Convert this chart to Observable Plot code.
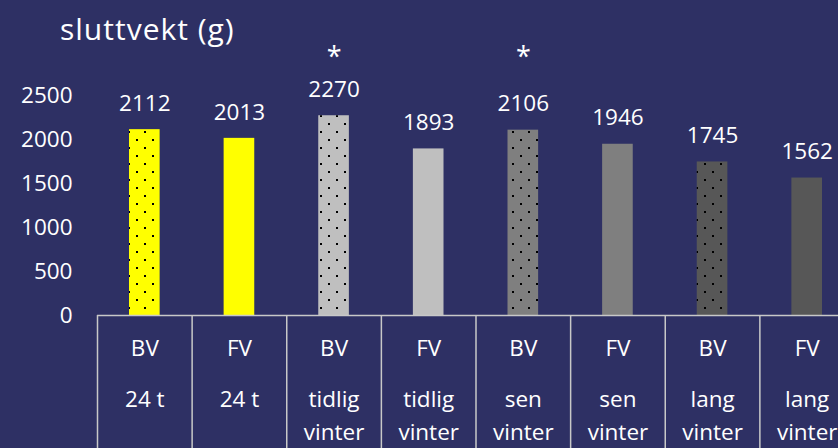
<!DOCTYPE html>
<html><head><meta charset="utf-8">
<script src="https://cdn.jsdelivr.net/npm/d3@7"></script>
<script src="https://cdn.jsdelivr.net/npm/@observablehq/plot@0.6"></script>
<style>
html,body{margin:0;padding:0;background:#2E3064;overflow:hidden;}
#wrap{position:relative;width:838px;height:448px;}
#title{position:absolute;left:60px;top:14px;color:#fff;font-family:"Open Sans",sans-serif;font-size:30px;line-height:1;letter-spacing:1px;white-space:nowrap;}
</style></head><body><div id="wrap"></div>
<script>
const groups = ["BV", "FV", "BV", "FV", "BV", "FV", "BV", "FV"];
const periods = ["24 t", "24 t", "tidlig\nvinter", "tidlig\nvinter", "sen\nvinter", "sen\nvinter", "lang\nvinter", "lang\nvinter"];
const values = [2112, 2013, 2270, 1893, 2106, 1946, 1745, 1562];
const stars = ["", "", "*", "", "*", "", "", ""];
const yTicks = [0, 500, 1000, 1500, 2000, 2500];
const titleText = "sluttvekt (g)";

const periodKeys = ["24 t", "tidlig\nvinter", "sen\nvinter", "lang\nvinter"];
const barColors = ["#FFFF00", "#BFBFBF", "#7F7F7F", "#575757"];
const lineColor = "#C8C8C8";

const data = values.map((value, i) => ({i, group: groups[i], period: periods[i], value, star: stars[i]}));
const bv = data.filter(d => d.group === "BV");
const boundaries = d3.range(values.length + 1);

const svg = Plot.plot({
  width: 838, height: 448,
  marginTop: 0, marginBottom: 0, marginLeft: 97, marginRight: 0,
  style: {background: "#2E3064", color: "white", fontFamily: "'Open Sans', sans-serif", fontSize: "22.5px"},
  x: {type: "linear", domain: [-0.5, values.length - 0.5], range: [97, 854], axis: null},
  y: {domain: [0, 3000], range: [315, 51]},
  color: {domain: periodKeys, range: barColors},
  marks: [
    Plot.rectY(data, {x1: d => d.i - 0.5, x2: d => d.i + 0.5, y1: 0, y2: "value", fill: "period", insetLeft: 32, insetRight: 32}),
    Plot.rectY(bv, {x1: d => d.i - 0.5, x2: d => d.i + 0.5, y1: 0, y2: "value", fill: "url(#dots)", insetLeft: 32, insetRight: 32}),
    Plot.ruleX(boundaries, {x: d => d - 0.5, insetTop: 315, stroke: lineColor, strokeWidth: 1.5}),
    Plot.ruleY([0], {stroke: lineColor, strokeWidth: 1.5}),
    Plot.axisY({ticks: yTicks, tickSize: 0, tickPadding: 25, label: null, tickFormat: d => String(d)}),
    Plot.text(data, {x: "i", y: "value", text: d => String(d.value), dy: -26}),
    Plot.text(data, {x: "i", text: "group", frameAnchor: "bottom", lineAnchor: "top", dy: -108}),
    Plot.text(data, {x: "i", text: "period", frameAnchor: "bottom", lineAnchor: "top", dy: -65, lineHeight: 1.47}),
    Plot.text(data.filter(d => d.star), {x: "i", text: "star", frameAnchor: "top", lineAnchor: "top", dy: 46, fontSize: 27})
  ]
});

d3.select(svg).insert("defs", ":first-child").html(
  '<pattern id="dots" patternUnits="userSpaceOnUse" width="16" height="16">' +
  '<rect x="0" y="3" width="2" height="2" fill="#000"/>' +
  '<rect x="8" y="11" width="2" height="2" fill="#000"/>' +
  '</pattern>'
);

const wrap = document.getElementById("wrap");
wrap.appendChild(svg);
const t = document.createElement("div");
t.id = "title";
t.textContent = titleText;
wrap.appendChild(t);
</script>
</body></html>
